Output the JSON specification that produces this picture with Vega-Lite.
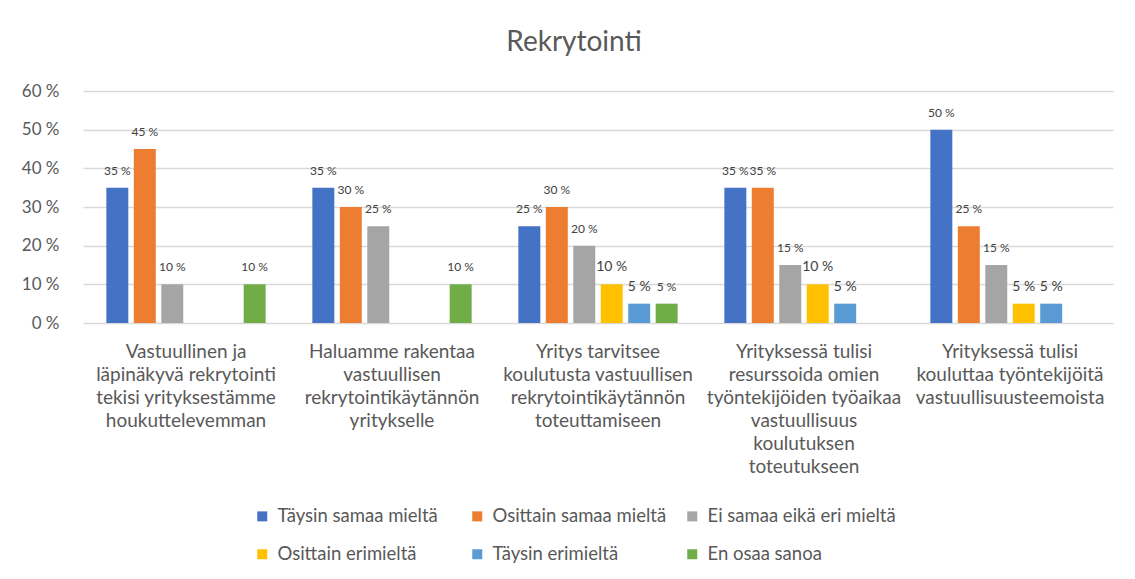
{
  "$schema": "https://vega.github.io/schema/vega-lite/v6.json",
  "width": 1030,
  "height": 232,
  "autosize": {"type": "none"},
  "padding": {"left": 83, "top": 91, "right": 22, "bottom": 256},
  "background": "white",
  "title": {"text": "Rekrytointi", "font": "Lato", "fontSize": 28, "fontWeight": "normal", "color": "#595959", "anchor": "middle", "dx": -24, "dy": 33, "offset": 36, "baseline": "alphabetic"},
  "data": {"values": [
    {"c": "Vastuullinen ja\nläpinäkyvä rekrytointi\ntekisi yrityksestämme\nhoukuttelevemman", "s": "Täysin samaa mieltä", "v": 35},
    {"c": "Vastuullinen ja\nläpinäkyvä rekrytointi\ntekisi yrityksestämme\nhoukuttelevemman", "s": "Osittain samaa mieltä", "v": 45},
    {"c": "Vastuullinen ja\nläpinäkyvä rekrytointi\ntekisi yrityksestämme\nhoukuttelevemman", "s": "Ei samaa eikä eri mieltä", "v": 10},
    {"c": "Vastuullinen ja\nläpinäkyvä rekrytointi\ntekisi yrityksestämme\nhoukuttelevemman", "s": "En osaa sanoa", "v": 10},
    {"c": "Haluamme rakentaa\nvastuullisen\nrekrytointikäytännön\nyritykselle", "s": "Täysin samaa mieltä", "v": 35},
    {"c": "Haluamme rakentaa\nvastuullisen\nrekrytointikäytännön\nyritykselle", "s": "Osittain samaa mieltä", "v": 30},
    {"c": "Haluamme rakentaa\nvastuullisen\nrekrytointikäytännön\nyritykselle", "s": "Ei samaa eikä eri mieltä", "v": 25},
    {"c": "Haluamme rakentaa\nvastuullisen\nrekrytointikäytännön\nyritykselle", "s": "En osaa sanoa", "v": 10},
    {"c": "Yritys tarvitsee\nkoulutusta vastuullisen\nrekrytointikäytännön\ntoteuttamiseen", "s": "Täysin samaa mieltä", "v": 25},
    {"c": "Yritys tarvitsee\nkoulutusta vastuullisen\nrekrytointikäytännön\ntoteuttamiseen", "s": "Osittain samaa mieltä", "v": 30},
    {"c": "Yritys tarvitsee\nkoulutusta vastuullisen\nrekrytointikäytännön\ntoteuttamiseen", "s": "Ei samaa eikä eri mieltä", "v": 20},
    {"c": "Yritys tarvitsee\nkoulutusta vastuullisen\nrekrytointikäytännön\ntoteuttamiseen", "s": "Osittain erimieltä", "v": 10},
    {"c": "Yritys tarvitsee\nkoulutusta vastuullisen\nrekrytointikäytännön\ntoteuttamiseen", "s": "Täysin erimieltä", "v": 5},
    {"c": "Yritys tarvitsee\nkoulutusta vastuullisen\nrekrytointikäytännön\ntoteuttamiseen", "s": "En osaa sanoa", "v": 5},
    {"c": "Yrityksessä tulisi\nresurssoida omien\ntyöntekijöiden työaikaa\nvastuullisuus\nkoulutuksen\ntoteutukseen", "s": "Täysin samaa mieltä", "v": 35},
    {"c": "Yrityksessä tulisi\nresurssoida omien\ntyöntekijöiden työaikaa\nvastuullisuus\nkoulutuksen\ntoteutukseen", "s": "Osittain samaa mieltä", "v": 35},
    {"c": "Yrityksessä tulisi\nresurssoida omien\ntyöntekijöiden työaikaa\nvastuullisuus\nkoulutuksen\ntoteutukseen", "s": "Ei samaa eikä eri mieltä", "v": 15},
    {"c": "Yrityksessä tulisi\nresurssoida omien\ntyöntekijöiden työaikaa\nvastuullisuus\nkoulutuksen\ntoteutukseen", "s": "Osittain erimieltä", "v": 10},
    {"c": "Yrityksessä tulisi\nresurssoida omien\ntyöntekijöiden työaikaa\nvastuullisuus\nkoulutuksen\ntoteutukseen", "s": "Täysin erimieltä", "v": 5},
    {"c": "Yrityksessä tulisi\nkouluttaa työntekijöitä\nvastuullisuusteemoista", "s": "Täysin samaa mieltä", "v": 50},
    {"c": "Yrityksessä tulisi\nkouluttaa työntekijöitä\nvastuullisuusteemoista", "s": "Osittain samaa mieltä", "v": 25},
    {"c": "Yrityksessä tulisi\nkouluttaa työntekijöitä\nvastuullisuusteemoista", "s": "Ei samaa eikä eri mieltä", "v": 15},
    {"c": "Yrityksessä tulisi\nkouluttaa työntekijöitä\nvastuullisuusteemoista", "s": "Osittain erimieltä", "v": 5},
    {"c": "Yrityksessä tulisi\nkouluttaa työntekijöitä\nvastuullisuusteemoista", "s": "Täysin erimieltä", "v": 5}
  ]},
  "transform": [{"calculate": "datum.v + ' %'", "as": "lbl"}],
  "encoding": {
    "x": {
      "field": "c", "type": "nominal", "sort": null, "title": null,
      "scale": {"paddingInner": 0.2, "paddingOuter": 0.1},
      "axis": {"labelAngle": 0, "labelExpr": "split(datum.value, '\\n')", "labelFont": "Lato", "labelFontSize": 19, "labelColor": "#595959", "labelLineHeight": 23, "labelBaseline": "alphabetic", "labelPadding": 34, "labelLimit": 300, "ticks": false, "tickSize": 0, "domain": false, "grid": false}
    },
    "xOffset": {
      "field": "s", "type": "nominal",
      "scale": {"domain": ["Täysin samaa mieltä", "Osittain samaa mieltä", "Ei samaa eikä eri mieltä", "Osittain erimieltä", "Täysin erimieltä", "En osaa sanoa"], "paddingInner": 0.2, "paddingOuter": 0.1}
    },
    "y": {
      "field": "v", "type": "quantitative", "title": null,
      "scale": {"domain": [0, 60]},
      "axis": {"values": [0, 10, 20, 30, 40, 50, 60], "labelExpr": "datum.value + ' %'", "labelFont": "Lato", "labelFontSize": 17, "labelColor": "#595959", "labelPadding": 24, "ticks": false, "domain": false, "grid": true, "gridColor": "#d9d9d9", "gridWidth": 1.5}
    }
  },
  "layer": [
    {
      "mark": {"type": "bar"},
      "encoding": {
        "color": {
          "field": "s", "type": "nominal", "title": null,
          "scale": {"domain": ["Täysin samaa mieltä", "Osittain samaa mieltä", "Ei samaa eikä eri mieltä", "Osittain erimieltä", "Täysin erimieltä", "En osaa sanoa"], "range": ["#4472C4", "#ED7D31", "#A5A5A5", "#FFC000", "#5B9BD5", "#70AD47"]},
          "legend": {"orient": "none", "direction": "horizontal", "legendX": 170, "legendY": 416, "columns": 3, "gridAlign": "all", "symbolType": "square", "symbolSize": 100, "symbolStrokeWidth": 0, "labelFont": "Lato", "labelFontSize": 18.5, "labelColor": "#595959", "labelOffset": 6, "rowPadding": 19, "columnPadding": 2, "padding": 0, "labelLimit": 300}
        }
      }
    },
    {
      "mark": {"type": "text", "baseline": "middle", "dy": -17, "font": "Lato", "color": "#404040"},
      "encoding": {
        "text": {"field": "lbl"},
        "size": {"condition": {"test": "datum.s === 'Osittain erimieltä' || datum.s === 'Täysin erimieltä'", "value": 14}, "value": 12}
      }
    }
  ],
  "config": {"view": {"stroke": null}}
}
